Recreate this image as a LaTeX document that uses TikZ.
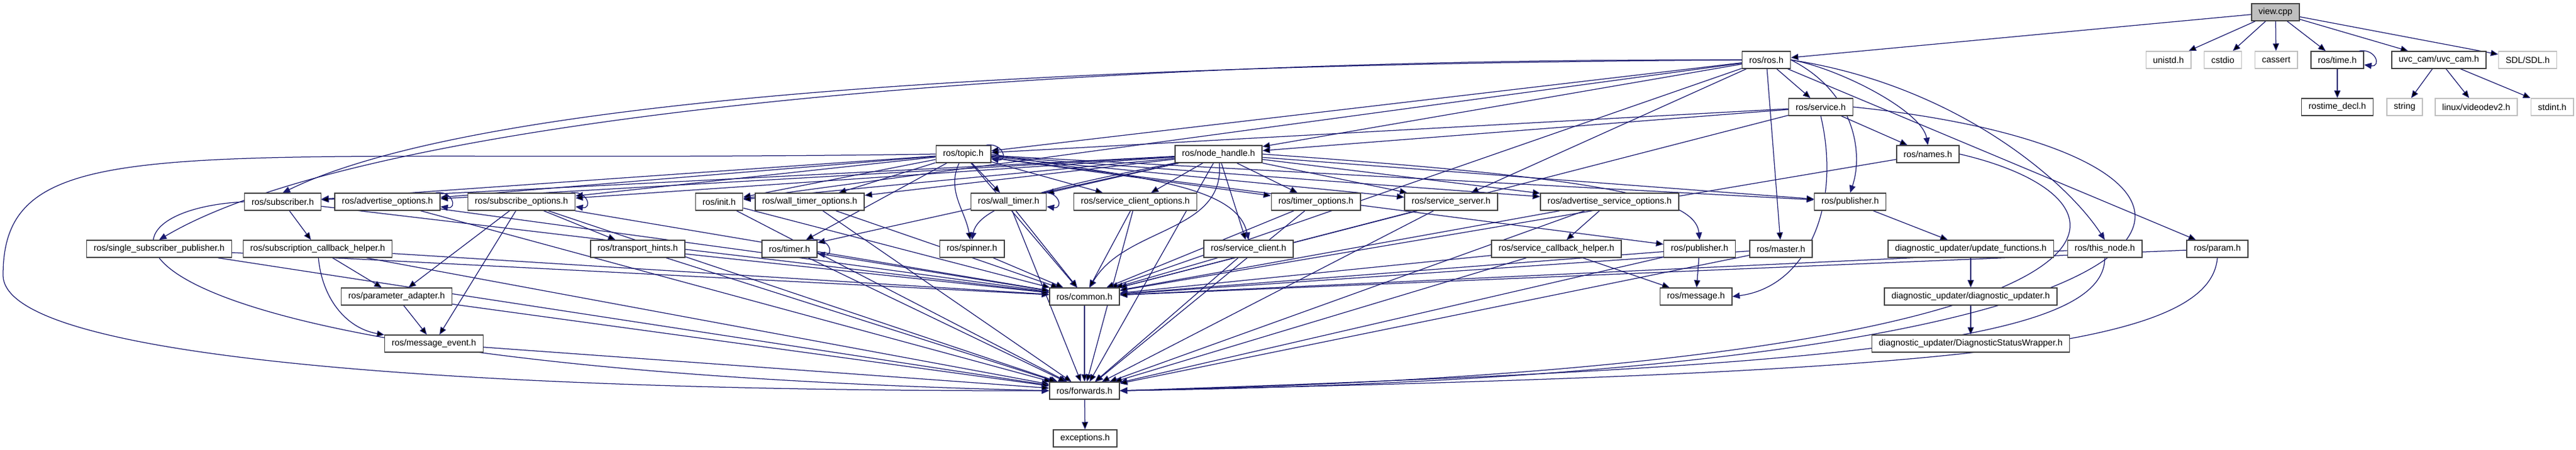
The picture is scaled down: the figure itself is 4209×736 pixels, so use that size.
\documentclass[tikz,border=0pt]{standalone}
\usepackage{fontspec}
\setmainfont{Liberation Sans}
\usetikzlibrary{arrows.meta}
\usetikzlibrary{backgrounds}

\definecolor{incblue}{HTML}{191970}
\definecolor{sysgray}{HTML}{BFBFBF}

\tikzset{
  hdr/.style={draw=black!75, line width=0.3mm, fill=white, minimum height=5.6mm,
    inner xsep=2.3mm, inner ysep=0pt, font=\fontsize{8.2}{9}\selectfont},
  syshdr/.style={hdr, draw=sysgray},
  roothdr/.style={hdr, fill=sysgray},
  inc/.style={draw=incblue, line width=0.25mm, -{Triangle[length=2.4mm,width=2mm]}},
}

\begin{document}
\begin{tikzpicture}[x=0.2mm, y=0.2mm]
  \useasboundingbox (0,0) rectangle (4209,-736);

  % rows 0-2
  \node[roothdr] (view) at (3718,-20) {view.cpp};
  \node[hdr] (ros) at (2886,-98) {ros/ros.h};
  \node[syshdr] (unistd) at (3543,-98) {unistd.h};
  \node[syshdr] (cstdio) at (3632,-98) {cstdio};
  \node[syshdr] (cassert) at (3719,-98) {cassert};
  \node[hdr] (time) at (3819,-98) {ros/time.h};
  \node[hdr] (uvc) at (3985,-98) {uvc\_cam/uvc\_cam.h};
  \node[syshdr] (sdl) at (4130,-98) {SDL/SDL.h};
  \node[hdr] (service) at (2975,-175) {ros/service.h};
  \node[hdr] (rostimedecl) at (3819,-175) {rostime\_decl.h};
  \node[syshdr] (string) at (3929,-175) {string};
  \node[syshdr] (videodev) at (4046,-175) {linux/videodev2.h};
  \node[syshdr] (stdint) at (4170,-175) {stdint.h};

  % row 3
  \node[hdr] (topic) at (1574,-252) {ros/topic.h};
  \node[hdr] (nodehandle) at (1991,-252) {ros/node\_handle.h};
  \node[hdr] (names) at (3150,-252) {ros/names.h};

  % row 4
  \node[hdr] (subscriber) at (462,-330) {ros/subscriber.h};
  \node[hdr] (advopts) at (633,-330) {ros/advertise\_options.h};
  \node[hdr] (subopts) at (852,-330) {ros/subscribe\_options.h};
  \node[hdr] (init) at (1175,-330) {ros/init.h};
  \node[hdr] (walltimeropts) at (1323,-330) {ros/wall\_timer\_options.h};
  \node[hdr] (walltimer) at (1648,-330) {ros/wall\_timer.h};
  \node[hdr] (srvclientopts) at (1855,-330) {ros/service\_client\_options.h};
  \node[hdr] (timeropts) at (2150,-330) {ros/timer\_options.h};
  \node[hdr] (srvserver) at (2371,-330) {ros/service\_server.h};
  \node[hdr] (advsrvopts) at (2630,-330) {ros/advertise\_service\_options.h};
  \node[hdr] (pubdiag) at (3023,-330) {ros/publisher.h};

  % row 5
  \node[hdr] (singlesub) at (260,-407) {ros/single\_subscriber\_publisher.h};
  \node[hdr] (subcbhelper) at (519,-407) {ros/subscription\_callback\_helper.h};
  \node[hdr] (transport) at (1042,-407) {ros/transport\_hints.h};
  \node[hdr] (timer) at (1290,-407) {ros/timer.h};
  \node[hdr] (spinner) at (1588,-407) {ros/spinner.h};
  \node[hdr] (srvclient) at (2040,-407) {ros/service\_client.h};
  \node[hdr] (srvcbhelper) at (2543,-407) {ros/service\_callback\_helper.h};
  \node[hdr] (publisher) at (2777,-407) {ros/publisher.h};
  \node[hdr] (master) at (2910,-407) {ros/master.h};
  \node[hdr] (updfunc) at (3220,-407) {diagnostic\_updater/update\_functions.h};
  \node[hdr] (thisnode) at (3439,-407) {ros/this\_node.h};
  \node[hdr] (param) at (3623,-407) {ros/param.h};

  % rows 6-9
  \node[hdr] (paramadapter) at (648,-485) {ros/parameter\_adapter.h};
  \node[hdr] (common) at (1772,-485) {ros/common.h};
  \node[hdr] (message) at (2771,-485) {ros/message.h};
  \node[hdr] (diagupd) at (3220,-485) {diagnostic\_updater/diagnostic\_updater.h};
  \node[hdr] (msgevent) at (709,-562) {ros/message\_event.h};
  \node[hdr] (statuswrapper) at (3220,-562) {diagnostic\_updater/DiagnosticStatusWrapper.h};
  \node[hdr] (forwards) at (1772,-639) {ros/forwards.h};
  \node[hdr] (exceptions) at (1773,-717) {exceptions.h};

  \begin{pgfonlayer}{background}
  % includes of the top files
  \path[inc] (view) edge (ros) edge (unistd) edge (cstdio) edge (cassert)
    edge (time) edge (uvc) edge (sdl);
  \path[inc] (time) edge (rostimedecl);
  \path[inc] (uvc) edge (string) edge (videodev) edge (stdint);
  \path[inc] (ros) edge (service) edge (topic) edge (nodehandle) edge (init)
    edge (srvserver) edge (master) edge (param) edge (common);
  \draw[inc] (ros.east) .. controls (3000,-110) and (3140,-180) .. (names.north);
  \draw[inc] (ros.west) .. controls (1800,-105) and (800,-150) .. (subscriber.north);
  \draw[inc] (ros.west) .. controls (1700,-95) and (600,-190) .. (singlesub.north);
  \draw[inc] (ros.east) .. controls (3030,-150) and (3045,-250) .. (pubdiag.north);
  \draw[inc] (ros.east) .. controls (3200,-140) and (3380,-300) .. (thisnode.north);
  \path[inc] (service) edge (names) edge (nodehandle) edge (topic) edge (common);
  \draw[inc] (service.south) .. controls (3010,-340) and (2950,-470) .. (message.east);
  \draw[inc] (service.east) .. controls (3760,-250) and (3790,-610) .. (forwards.east);
  \path[inc] (names) edge (common);
  \draw[inc] (names.east) .. controls (3540,-330) and (3560,-600) .. (forwards.east);

  % topic.h and node_handle.h
  \path[inc] (topic) edge (subscriber) edge (advopts) edge (subopts) edge (init)
    edge (walltimeropts) edge (walltimer) edge[out=-115,in=100] (spinner)
    edge (srvclientopts) edge (timer) edge (timeropts) edge (srvserver)
    edge (advsrvopts) edge (pubdiag) edge (publisher) edge (common);
  \draw[inc] (topic.east) .. controls (1850,-290) and (2020,-300) .. (srvclient.north);
  \draw[inc] (topic.west) .. controls (300,-270) and (5,-200) .. (5,-450)
    .. controls (5,-600) and (900,-640) .. (forwards.west);
  \path[inc] (nodehandle) edge (subscriber) edge (advopts) edge (subopts) edge (init)
    edge (walltimeropts) edge (walltimer) edge (srvclientopts) edge (timeropts)
    edge (srvserver) edge (advsrvopts) edge (pubdiag) edge (timer) edge (srvclient)
    edge[out=-85,in=60] (common) edge (forwards);
  \draw[inc] (nodehandle.east) .. controls (2600,-290) and (2770,-320) .. (publisher.north);
  \draw[inc] (nodehandle.south west) .. controls (1750,-300) and (1600,-330) .. (spinner.north);

  % row 4
  \path[inc] (subscriber) edge (subcbhelper) edge (common);
  \draw[inc] (subscriber.west) .. controls (110,-345) and (100,-600) .. (forwards.west);
  \path[inc] (advopts) edge (common) edge (forwards);
  \path[inc] (subopts) edge (transport) edge (paramadapter) edge (msgevent)
    edge (common) edge (forwards);
  \path[inc] (init) edge (common) edge (forwards);
  \path[inc] (walltimeropts) edge (common) edge (forwards);
  \path[inc] (walltimer) edge (common) edge (forwards);
  \path[inc] (srvclientopts) edge (common) edge (forwards);
  \path[inc] (timeropts) edge (common) edge (forwards);
  \path[inc] (srvserver) edge (common) edge (forwards);
  \path[inc] (advsrvopts) edge (srvcbhelper) edge (common) edge (forwards);
  \path[inc] (pubdiag) edge (updfunc);

  % row 5
  \path[inc] (singlesub) edge (common) edge (forwards);
  \path[inc] (subcbhelper) edge (paramadapter) edge[out=-85,in=170] (msgevent)
    edge (common) edge (forwards);
  \path[inc] (transport) edge (common) edge (forwards);
  \path[inc] (timer) edge (common) edge (forwards);
  \path[inc] (spinner) edge (common);
  \path[inc] (srvclient) edge (common) edge (forwards);
  \path[inc] (srvcbhelper) edge (message) edge (common) edge (forwards);
  \path[inc] (publisher) edge (message) edge (common) edge (forwards);
  \path[inc] (master) edge (common) edge (forwards);
  \path[inc] (updfunc) edge (diagupd);
  \path[inc] (thisnode) edge (common);
  \draw[inc] (thisnode.south) .. controls (3439,-560) and (3000,-600) .. (forwards.east);
  \path[inc] (param) edge (common);
  \draw[inc] (param.south) .. controls (3610,-570) and (3200,-610) .. (forwards.east);

  % rows 6-8
  \path[inc] (paramadapter) edge (msgevent) edge (forwards);
  \path[inc] (common) edge (forwards);
  \path[inc] (diagupd) edge (statuswrapper);
  \path[inc] (msgevent) edge (forwards);
  \path[inc] (forwards) edge (exceptions);
  \end{pgfonlayer}

  % self includes
  \draw[inc] ([xshift=-1.6mm]time.north east) .. controls +(28,4) and +(28,-4) .. ([yshift=-1.6mm]time.east);
  \draw[inc] ([xshift=-1.6mm]topic.north east) .. controls +(28,4) and +(28,-4) .. ([yshift=-1.6mm]topic.east);
  \draw[inc] ([xshift=-1.6mm]advopts.north east) .. controls +(28,4) and +(28,-4) .. ([yshift=-1.6mm]advopts.east);
  \draw[inc] ([xshift=-1.6mm]subopts.north east) .. controls +(28,4) and +(28,-4) .. ([yshift=-1.6mm]subopts.east);
  \draw[inc] ([xshift=-1.6mm]walltimer.north east) .. controls +(28,4) and +(28,-4) .. ([yshift=-1.6mm]walltimer.east);
  \draw[inc] ([xshift=-1.6mm]timer.north east) .. controls +(28,4) and +(28,-4) .. ([yshift=-1.6mm]timer.east);
\end{tikzpicture}
\end{document}
